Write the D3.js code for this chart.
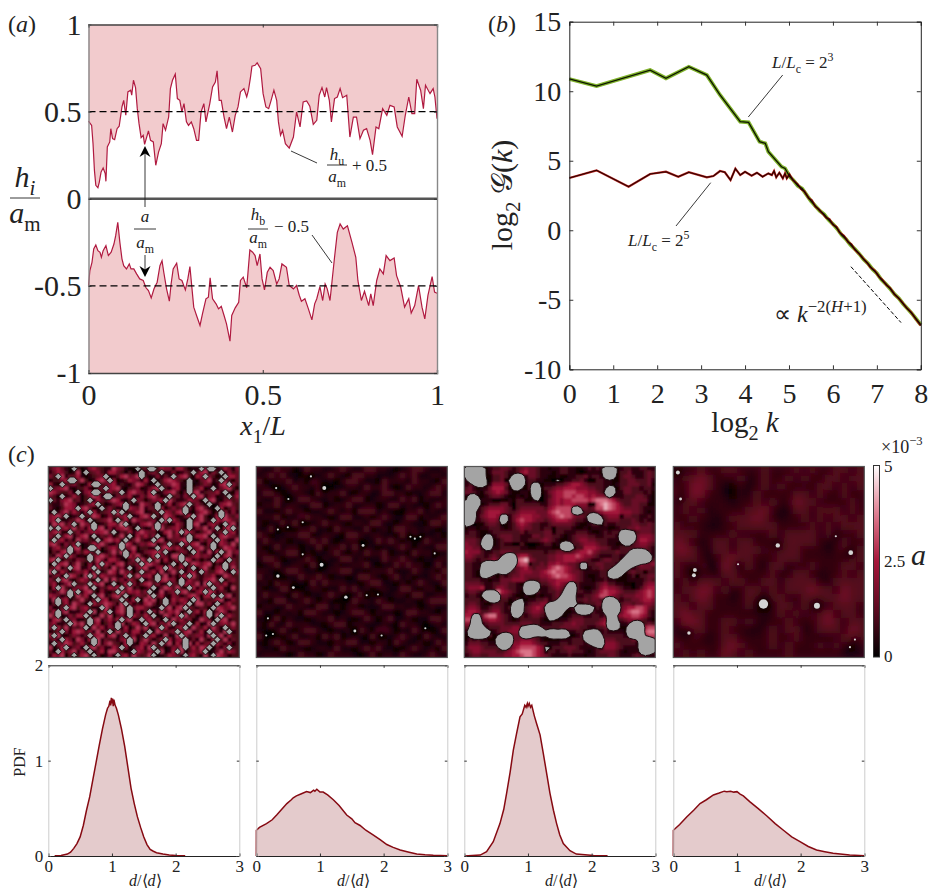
<!DOCTYPE html>
<html>
<head>
<meta charset="utf-8">
<script src="https://cdn.jsdelivr.net/npm/d3@7"></script>
<style>
  body { margin: 0; background: #fff; }
  svg { display: block; }
  text { font-family: "Liberation Serif", serif; fill: #222; }
</style>
</head>
<body>
<svg id="fig" width="929" height="890"></svg>
<script>
// panel (a): top and bottom surface heights
const upperX = [0,.009,.013,.017,.021,.027,.031,.036,.042,.048,.05,.054,.061,.064,.069,.075,.082,.088,.096,.101,.107,.113,.121,.124,.129,.135,.14,.145,.151,.157,.161,.167,.172,.178,.186,.193,.201,.209,.214,.221,.23,.235,.241,.249,.255,.262,.268,.274,.281,.287,.295,.302,.31,.316,.323,.331,.337,.348,.356,.364,.369,.375,.381,.389,.396,.404,.413,.421,.429,.436,.446,.454,.459,.465,.469,.478,.484,.494,.501,.509,.517,.524,.532,.54,.545,.551,.557,.565,.576,.588,.597,.607,.616,.626,.635,.645,.655,.662,.67,.678,.683,.691,.697,.706,.714,.722,.729,.741,.75,.76,.769,.779,.789,.798,.808,.815,.825,.833,.844,.856,.865,.877,.886,.9,.909,.919,.928,.936,.942,.953,.961,.967,.98,.989,.994,1];
const upperH = [.446,.421,.316,.163,.077,.063,.096,.153,.176,.144,.1,.297,.326,.402,.345,.339,.402,.416,.527,.565,.479,.613,.623,.594,.68,.638,.517,.431,.351,.364,.312,.354,.389,.335,.326,.192,.268,.316,.431,.393,.469,.632,.68,.715,.575,.565,.498,.546,.441,.421,.441,.402,.335,.335,.498,.546,.441,.546,.642,.67,.734,.565,.565,.469,.402,.469,.383,.479,.527,.613,.632,.584,.623,.699,.761,.766,.78,.747,.603,.527,.517,.565,.623,.565,.441,.364,.393,.316,.291,.354,.498,.412,.556,.561,.531,.427,.45,.594,.638,.584,.638,.565,.441,.575,.584,.632,.58,.594,.354,.469,.469,.345,.393,.402,.335,.253,.412,.402,.517,.479,.536,.527,.412,.358,.479,.584,.489,.489,.686,.623,.517,.651,.603,.632,.584,.46];
const lowerX = [0,.004,.01,.015,.021,.027,.033,.037,.042,.05,.057,.065,.073,.078,.084,.09,.096,.101,.109,.117,.122,.13,.138,.147,.157,.165,.172,.18,.188,.197,.205,.211,.216,.224,.232,.237,.243,.253,.26,.268,.278,.285,.291,.297,.302,.31,.32,.327,.337,.344,.349,.356,.366,.373,.381,.389,.396,.406,.411,.421,.431,.436,.444,.454,.463,.471,.478,.484,.492,.498,.505,.513,.521,.53,.54,.547,.555,.568,.576,.588,.597,.605,.611,.621,.631,.641,.649,.655,.664,.672,.679,.685,.693,.699,.706,.714,.722,.731,.743,.756,.767,.773,.783,.792,.804,.81,.817,.827,.836,.846,.854,.865,.877,.884,.896,.907,.919,.926,.936,.947,.957,.965,.974,.986,.993,1];
const lowerH = [-.498,-.412,-.365,-.288,-.265,-.298,-.307,-.336,-.298,-.269,-.326,-.307,-.26,-.212,-.135,-.25,-.345,-.384,-.403,-.374,-.403,-.403,-.431,-.46,-.469,-.511,-.527,-.569,-.517,-.479,-.384,-.355,-.422,-.517,-.588,-.489,-.403,-.37,-.46,-.469,-.523,-.46,-.389,-.517,-.622,-.67,-.727,-.66,-.574,-.565,-.454,-.574,-.603,-.632,-.618,-.67,-.718,-.817,-.67,-.626,-.594,-.469,-.45,-.511,-.294,-.307,-.326,-.384,-.317,-.46,-.523,-.422,-.393,-.412,-.489,-.46,-.374,-.393,-.498,-.517,-.498,-.555,-.588,-.574,-.632,-.695,-.603,-.574,-.504,-.584,-.489,-.517,-.584,-.469,-.336,-.193,-.145,-.174,-.155,-.25,-.336,-.469,-.584,-.531,-.613,-.546,-.613,-.469,-.403,-.431,-.326,-.355,-.34,-.441,-.508,-.622,-.574,-.656,-.613,-.498,-.622,-.689,-.555,-.447,-.536,-.542];
const aTicks = [0, .5, 1];
const hTicks = [-1, -.5, 0, .5, 1];

// panel (b): spectra
const specGreenK = [0,.62,1.84,2.2,2.72,3.13,3.43,3.89,4.08,4.33,4.46,4.53,4.83,4.91,5.02,5.1,5.2,5.3,5.4,5.5,5.6,5.7,5.8,5.9,6,6.1,6.2,6.3,6.4,6.5,6.6,6.7,6.8,6.9,7,7.1,7.2,7.3,7.4,7.5,7.6,7.7,7.8,7.9,8];
const specGreen = [10.88,10.37,11.52,10.93,11.76,11.16,9.73,7.81,7.76,6.37,6.25,5.65,4.57,4.45,3.85,3.6,3.2,3,2.55,2.1,1.75,1.4,1.15,.75,.45,.1,-.35,-.65,-1.05,-1.35,-1.7,-2.1,-2.4,-2.8,-3.1,-3.55,-3.85,-4.2,-4.6,-4.9,-5.3,-5.65,-6,-6.4,-6.8];
const specRedK = [0,.62,1.35,1.84,2.2,2.48,2.72,3.13,3.28,3.43,3.54,3.67,3.78,3.89,4,4.15,4.27,4.4,4.53,4.61,4.66,4.71,4.78,4.86,4.91,4.95,5.01,5.09,5.2,5.28,5.35,5.45,5.52,5.6,5.68,5.75,5.85,5.92,6,6.08,6.15,6.25,6.35,6.42,6.5,6.6,6.68,6.78,6.85,6.95,7.05,7.12,7.22,7.3,7.4,7.5,7.58,7.68,7.78,7.88,8];
const specRed = [3.76,4.31,3.13,4.05,4.21,3.85,4.17,3.81,3.9,4.26,4.17,3.61,4.43,3.97,4.21,3.93,4.14,3.85,4.09,3.97,4.26,3.81,4.14,3.73,4.09,3.73,4.02,3.61,3.3,2.95,2.8,2.3,2.15,1.7,1.5,1.25,.9,.8,.4,.25,-.15,-.4,-.85,-1,-1.4,-1.7,-2,-2.35,-2.65,-2.9,-3.35,-3.55,-3.95,-4.15,-4.6,-4.9,-5.2,-5.6,-5.9,-6.35,-6.85];
const slopeK = [6.41, 7.55];
const slopeG = [-2.62, -6.64];
const kTicks = [0, 1, 2, 3, 4, 5, 6, 7, 8];
const gTicks = [-10, -5, 0, 5, 10, 15];

// panel (c): distributions of d/<d>
const pdf1X = [.1,.2,.3,.35,.4,.45,.5,.55,.6,.65,.7,.75,.8,.85,.9,.93,.95,.97,.98,.99,1,1.01,1.02,1.03,1.05,1.07,1.1,1.15,1.2,1.25,1.3,1.35,1.4,1.45,1.5,1.55,1.6,1.65,1.7,1.8,1.9,2,2.15];
const pdf1Y = [.002,.006,.02,.04,.08,.13,.2,.32,.48,.62,.8,.98,1.16,1.33,1.48,1.55,1.57,1.63,1.58,1.66,1.6,1.65,1.57,1.64,1.58,1.55,1.48,1.33,1.15,.93,.71,.55,.41,.3,.2,.12,.07,.05,.035,.02,.01,.006,.003];
const pdf2X = [0,.001,.05,.16,.25,.32,.4,.48,.55,.58,.63,.7,.79,.85,.9,.92,.95,1,1.05,1.12,1.21,1.3,1.42,1.5,1.55,1.63,1.72,1.84,1.95,2.05,2.15,2.26,2.4,2.52,2.65,2.78,3];
const pdf2Y = [0,.27,.3,.34,.38,.43,.49,.55,.59,.61,.63,.65,.675,.665,.69,.68,.7,.67,.67,.64,.59,.53,.43,.39,.35,.32,.27,.22,.17,.12,.09,.063,.04,.02,.012,.007,.003];
const pdf3X = [0,.25,.35,.455,.56,.62,.665,.72,.77,.82,.875,.91,.95,.97,.99,1,1.02,1.04,1.06,1.1,1.135,1.19,1.24,1.3,1.345,1.4,1.45,1.5,1.555,1.66,1.76,2.03,2.25];
const pdf3Y = [.001,.01,.045,.15,.34,.49,.66,.88,1.11,1.28,1.46,1.49,1.58,1.56,1.6,1.57,1.6,1.56,1.58,1.47,1.39,1.27,1.08,.84,.66,.48,.34,.22,.13,.055,.02,.004,.002];
const pdf4X = [0,.001,.1,.21,.32,.42,.52,.63,.72,.8,.84,.9,.95,1,1.05,1.1,1.2,1.33,1.47,1.6,1.73,1.86,1.99,2.12,2.25,2.38,2.51,2.77,3];
const pdf4Y = [0,.27,.33,.41,.48,.55,.59,.64,.66,.68,.675,.68,.67,.675,.65,.63,.57,.5,.42,.34,.27,.2,.15,.1,.063,.045,.028,.01,.003];
const dTicks = [0, 1, 2, 3];
const pdfTicks = [0, 1, 2];

// maps of aperture a: one digit per cell, # = contact
const map1Rows = [
"356421#312564322754211#34##36551663122#5##236415",
"246531271#3453266431312#2453#2251243#367153#2534",
"53#72446212345#12367457#3125242#4673165#5312#664",
"13356##47312675#5123654262#13676431#2145723#5314",
"621#3453126##34562321476312#3457622#123541267#53",
"#4567213352144#5672134512467#315621#34612#246731",
"7643351#256##34534#2675426#12567314#67234462#215",
"531#2364135762##14546125367412#34253#67245123#36",
"#425673413#2643576213#5413556#742236541#67214534",
"322476512356#312456#3127542#1361467#3531#125674",
"4213665#67412#35312#6547244#613534#4167421#6135",
"1#25736415#62345#7#234671234#65367#21467413#5252",
"5674#123#34761253456#12675#327641246#573126#7435",
"56#1234762#134571#3627543451#7#6421#35732#65764",
"276735#1754#1236648#1325674#5312641#67215641#572",
"#3#56473526#6715256741#3126#7345631#254725#167#3",
"46721#3524565673#1436257544126736#7641357234#562",
"53#36724671#24351372#164635#1274514#36671#26754",
"3#5624174532#167560#247322#67134467#215353#64127",
"6741535#1236574214#76235467135#31#5467215#26537",
"25634#6712##613564#45713321#5764642#45734#137652",
"14267#253653#124737#261245674#213541#632726#3745",
"3275#64121#46753522#6473136#54277#23564541#16723",
"67#1432543#37516642135#74#3716235#7624132#651#4",
"1#56724731526#641672435#6754123#15#376467132#45",
"35714#67225#63417352#14672156#743624#1573156#273",
"7#2641354615#2376274513#346271473#2562#5336741#5",
"2451#76317#726544216#375562#3714156#73244612753",
"53#672146531#2727352641#143#67551#264325673#145",
"461257#334#65712#136#524673521#43#654717#45362",
"16#73245571#243656#4723125#14763731#62543#46217",
"32475#6#267315213#7465635#127245#673156#762431",
"65413#27461#5723673#135437#46215413675166#3#572",
"27#561347324#56134#526#175713#264652#7143467125",
"14#3627531#64576417#523267413#35246#177352#146",
"5124#67356312#741573#4664312#57167#532431#76457",
"36#5712245#7136#2673#1514#527365713#4626#247513",
"74#125366#4127371352#64364#127526#734125#17#364",
"2673#45113#5724636#5712#56341#274635127541#6723",
"46123#7572#461352#713651#672547#245#16127#35647",
"5#6372435#1746254#2613747135#62256#174362741#35",
"134#52676352714#173526624#175345#3672361#5427#2",
"6#72135424#56716714#3523#56217127#6345527#47163",
"352#6417516#72433256#71474135#6256#2417316#3724",
"2#547634631#72574316#2165273#47163#716245#642513",
"7136#2451#67352264#5135627#3412547#36376#1425#3",
"41#6357253#2461774312#65354#7126#713546#1247365",
"265714#3673#41251#56274347#1236542#563172#76413"];
const map2Rows = [
"21132201322112321133221012332112",
"12323110221232103322111232311221",
"30122312032110233211032221322103",
"22101232213301122132231013221232",
"13320122103222310221133220112331",
"21132013321120123301221132302112",
"02231221133012231122013312110232",
"31102322011232120333121002231211",
"12230113322101331120232113302123",
"20113231012322102213311022110332",
"11322102231103221130120332212101",
"32011223301221033212211031321120",
"13212011232310122011323202113212",
"20131220113022313221011232021133",
"22012331201123102132230110322311",
"13320112320211331201132232101122",
"01231122033112012231011323220131",
"22102332110122331102223011321203",
"31210113223201101332102312011232",
"12032211031322211023311020232113",
"20113320122011323120221133102201",
"13221032011232201312011220331122",
"21033112320210113221320112102333",
"02211322103312022011133221201211",
"31102120332110123320211013322102",
"12230211012231210132023112011332",
"20311322211023302211121032210121",
"11023102332101121320332011322013",
"32110231120323012103111232103211",
"10232013321102233110220321120132",
"21103221012213110232311002321203",
"12221013220132221013022132112321"];
const map3Rows = [
"#####123 34432345 44322122 33221123 232###12 33223322",
"#####124 44322356 44322212 33221012 221###13 34222343",
"1####113 3431###2 44322112 11223342 332###13 44322343",
"2####013 34#1###2 332211## #223342# #3322113 34433342",
"233###25 5541###1 3##12223 34566543 33322123 34443341",
"34212246 6631##11 3##13345 56665554 4332##13 44332332",
"44321345 65421122 1##12456 67776665 543###22 44333231",
"1##11234 43211212 1##02356 67767765 6554#222 33344321",
"1###222# #1121331 12#02456 56677776 78887643 33444421",
"1###1233 3442#333 33322456 5666555# #7898764 33443311",
"11#13455 5543#344 44443567 777##443 47798765 44443222",
"##323566 65433455 55444678 777###33 34566665 55443212",
"###24566 5##24566 65544567 8775443# ##24555# 44332232",
"##323455 4##24676 65443456 6654332# ###34443 33432322",
"#1#11344 3#123565 43322344 44432112 33#32233 33443343",
"12212233 32123454 433233#3 33321121 22221123 34454443",
"23321123 33333342 333344#3 32223332 1123233# #2#34443",
"33321##2 34443322 24434433 21234443 3223332# ###45554",
"44432##1 23443322 33345432 11234554 4333222# ###46654",
"5443###1 2322##31 ##123312 ###33455 54332211 #2345543",
"55442##2 23333322 11222211 ####3366 65443223 33344432",
"65553223 34443333 33332334 43345667 54333343 33####32",
"55433234 32###566 43333445 56667655 43222332 2######2",
"44323345 4####789 54333445 56665543 22344331 #######3",
"3322#### 3####677 #3343556 55443##3 3443332# ###45445",
"33223### 2###3456 43444678 76543##2 334332## #3234443",
"3321#### 1##33455 54456787 76544322 2233#### 13433#33",
"3321##32 13234454 44455678 77654321 1233###1 123#3344",
"33332212 24445554 33344556 66654322 12232211 12222343",
"44443223 3443321# ###33456 54##3222 23453322 11#22455",
"45556223 5543322# ###22345 42##3211 23565543 22#23566",
"34432#3# 8654321# ##322334 3###3322 34676654 33345676",
"2332#### #4432112 11212234 2##32233 45776543 44455676",
"333313## #33123#1 22334233 ####3343 443###32 33445665",
"34432113 3321###2 34455#2# ###12233 344####3 44344554",
"45542234 4323##33 4565#### #123#### #32####4 56677643",
"56653345 5322###3 45543### #112#### 322####4 67887632",
"66##4788 5432##32 34432### 11233322 33233455 66776532",
"77##4566 54321233 33321#11 22344433 3345##33 45554321",
"55##2344 44333344 43322233 34454433 3456###2 23###343",
"34##1233 344455#3 ###33333 44444332 2334###1 1####677",
"2######2 344555## ####3##3 ##2233#3 ##232222 1####788",
"1#####31 2###44## #33#2### ###123## ##333333 2###3677",
"13232211 ####4455 54321111 222333## ###44433 33433##2",
"24443322 ####5566 65433222 33233323 ###55543 3332####",
"35554333 3##35677 7765##33 34443222 23#55543 2222####",
"34554444 33456788 8765#332 33433321 23444432 1222###3",
"23443344 44556678 87654322 22322212 23334432 22343322"];
const map4Rows = [
"222322332223222323223323",
"233432223123223232233233",
"224432102123232222332323",
"324422102132222332322322",
"233222212232322433222232",
"232312222334211332333232",
"223221233343212232323323",
"322211223333322223232333",
"333222232222323333232223",
"432123323322233333212322",
"443213323332333322212333",
"333212343322233322222233",
"322311432321331223222332",
"323221332222312332122323",
"232333233223323333213333",
"233442312332323334332433",
"323432212333332233333433",
"332332222322233232223332",
"343322222122232323342332",
"244322332321223222343233",
"123322322112323312333243",
"223212332222322322122343",
"322222343222323222323212",
"232322432322223222222111"];
const map2Spots = [[.356,.113,4],[.286,.052,1],[.168,.17,1],[.243,.292,1],[.165,.318,1],[.113,.33,1],[.104,.113,1],[.559,.413,2],[.342,.514,4],[.113,.573,3],[.194,.634,2],[.469,.684,3],[.578,.674,1],[.637,.67,1],[.516,.861,2],[.885,.847,1],[.061,.795,1],[.087,.877,1],[.052,.885,1],[.934,.455,1],[.807,.368,1],[.83,.378,1],[.859,.368,1],[.243,.46,1],[.656,.885,1]];
const map4Spots = [[.024,.031,4],[.038,.17,2],[.547,.413,5],[.929,.451,6],[.113,.542,4],[.108,.569,4],[.339,.512,1],[.472,.72,26],[.752,.729,10],[.082,.872,3],[.851,.365,1],[.951,.906,1],[.925,.946,1]];
const aColorTicks = [0, 2.5, 5];

// colormap for a (in units of 1e-3), stops
const apertureColor = d3.scaleLinear()
  .domain([0, 1.25, 2.5, 3.75, 5])
  .range(["#000000", "#5c0a20", "#a5163a", "#e07d90", "#ffffff"]);
const digitValue = d3.scalePow().exponent(1.3).domain([0, 9]).range([0, 5]);

const svg = d3.select("#fig");
const defs = svg.append("defs");

function mathText(sel, runs, size) {
  let shift = 0;
  runs.forEach(r => {
    const s = r[1] || "";
    const level = s.includes("sub") ? .28 * size : s.includes("sup") ? -.42 * size : 0;
    sel.append("tspan")
      .attr("dy", level - shift)
      .attr("font-size", level ? size * .7 : size)
      .attr("font-style", s.includes("i") ? "italic" : "normal")
      .text(r[0]);
    shift = level;
  });
  return sel;
}
function label(x, y, runs, size, anchor) {
  const t = svg.append("text")
    .attr("x", x)
    .attr("y", y)
    .attr("font-size", size)
    .attr("text-anchor", anchor || "start");
  return mathText(t, runs, size);
}
function frac(cx, yNum, yLine, yDen, half, size, num, den) {
  label(cx, yNum, num, size, "middle");
  svg.append("line")
    .attr("x1", cx - half).attr("x2", cx + half)
    .attr("y1", yLine).attr("y2", yLine)
    .attr("stroke", "#222").attr("stroke-width", .9);
  label(cx, yDen, den, size, "middle");
}
function callout(x1, y1, x2, y2) {
  svg.append("line")
    .attr("x1", x1).attr("y1", y1).attr("x2", x2).attr("y2", y2)
    .attr("stroke", "#222").attr("stroke-width", .9);
}
function stealth(x, y, dir) {
  // arrow head with its tip on (x, y), dir = 1 points up, -1 points down
  const p = [[0, 0], [5.5, 11 * dir], [0, 7.5 * dir], [-5.5, 11 * dir]];
  svg.append("path")
    .attr("d", d3.line()(p.map(d => [x + d[0], y + d[1]])) + "Z")
    .attr("fill", "#000");
}
function frame(g, x, y, xt, yt, o) {
  const w = x.range()[1];
  const h = y.range()[0];
  const tick = o.tick || 4;
  const sides = [
    { ax: d3.axisBottom(x).tickValues(xt).tickSize(-tick).tickPadding(o.padX).tickFormat(o.xFmt || (d => d)), at: [0, h], c: o.hColor },
    { ax: d3.axisTop(x).tickValues(xt).tickSize(-tick).tickFormat(""), at: [0, 0], c: o.hColor },
    { ax: d3.axisLeft(y).tickValues(yt).tickSize(-tick).tickPadding(o.padY).tickFormat(o.yFmt || (d => d)), at: [0, 0], c: o.vColor },
    { ax: d3.axisRight(y).tickValues(yt).tickSize(-tick).tickFormat(""), at: [w, 0], c: o.vColor }
  ];
  sides.forEach(s => {
    const a = g.append("g").attr("transform", `translate(${s.at})`).call(s.ax);
    a.attr("font-family", null).attr("font-size", o.size);
    a.select(".domain").attr("stroke", s.c).attr("stroke-width", o.lw || 1);
    a.selectAll(".tick line").attr("stroke", "#333");
    a.selectAll(".tick text").attr("fill", "#222");
  });
}
const zipXY = (xs, ys) => xs.map((d, i) => [d, ys[i]]);

// ---- panel (a)
const aX = d3.scaleLinear().domain([0, 1]).range([0, 348.5]);
const aY = d3.scaleLinear().domain([-1, 1]).range([348.5, 0]);
const pa = svg.append("g").attr("transform", "translate(88.5,24.5)");
const upper = zipXY(upperX, upperH);
const lower = zipXY(lowerX, lowerH);

pa.append("path").datum(upper)
  .attr("d", d3.area().x(d => aX(d[0])).y0(aY(1)).y1(d => aY(d[1])))
  .attr("fill", "#f2cbcd");
pa.append("path").datum(lower)
  .attr("d", d3.area().x(d => aX(d[0])).y0(aY(-1)).y1(d => aY(d[1])))
  .attr("fill", "#f2cbcd");
[upper, lower].forEach(s => {
  pa.append("path").datum(s)
    .attr("d", d3.line().x(d => aX(d[0])).y(d => aY(d[1])))
    .attr("fill", "none").attr("stroke", "#b01a40").attr("stroke-width", 1.2);
});
[.5, -.5].forEach(v => {
  pa.append("line")
    .attr("x1", aX(0)).attr("x2", aX(1)).attr("y1", aY(v)).attr("y2", aY(v))
    .attr("stroke", "#000").attr("stroke-width", 1.4).attr("stroke-dasharray", "7 4");
});
pa.append("line")
  .attr("x1", aX(0)).attr("x2", aX(1)).attr("y1", aY(0)).attr("y2", aY(0))
  .attr("stroke", "#555").attr("stroke-width", 2.6);
frame(pa, aX, aY, aTicks, hTicks, { padX: 11, padY: 7, size: 30, tick: 3, hColor: "#444", vColor: "#888", lw: 1.4 });

label(8, 32, [["("], ["a", "i"], [")"]], 24);
frac(25, 187, 198, 223, 15, 30, [["h", "i"], ["i", "i sub"]], [["a", "i"], ["m", "sub"]]);
label(263, 435, [["x", "i"], ["1", "sub"], ["/"], ["L", "i"]], 28, "middle");
frac(337, 160, 165, 182, 10, 17, [["h", "i"], ["u", "sub"]], [["a", "i"], ["m", "sub"]]);
label(352, 171, [["+ 0.5"]], 17);
callout(291, 151, 317, 163);
frac(258, 220, 229, 243, 10, 17, [["h", "i"], ["b", "sub"]], [["a", "i"], ["m", "sub"]]);
label(274, 232, [["− 0.5"]], 17);
callout(312, 235, 332, 263);
frac(145, 222, 229, 248, 11, 17, [["a", "i"]], [["a", "i"], ["m", "sub"]]);
callout(145, 207, 145, 150);
stealth(145, 146, 1);
callout(145, 255, 145, 272);
stealth(145, 277, -1);

// ---- panel (b)
const bX = d3.scaleLinear().domain([0, 8]).range([0, 351.5]);
const bY = d3.scaleLinear().domain([-10, 15]).range([347.6, 0]);
const pb = svg.append("g").attr("transform", "translate(569.3,21.7)");
const specLine = d3.line().x(d => bX(d[0])).y(d => bY(d[1]));
const greenPts = zipXY(specGreenK, specGreen);
const redPts = zipXY(specRedK, specRed);
// coloured halos first, then the dark centres on top of both
[[greenPts, "#7fb22a", 3.8], [redPts, "#b4201c", 2.2], [greenPts, "#0c1400", 1.3], [redPts, "#2a0300", 1.1]].forEach(s => {
  pb.append("path").datum(s[0]).attr("d", specLine).attr("fill", "none").attr("stroke", s[1]).attr("stroke-width", s[2]);
});
pb.append("path").datum(zipXY(slopeK, slopeG))
  .attr("d", specLine).attr("fill", "none").attr("stroke", "#000").attr("stroke-width", 1).attr("stroke-dasharray", "4 2");
frame(pb, bX, bY, kTicks, gTicks, { padX: 14, padY: 8, size: 28, tick: 4, hColor: "#222", vColor: "#222" });

label(488, 32, [["("], ["b", "i"], [")"]], 24);
label(745, 432, [["log"], ["2", "sub"], [" "], ["k", "i"]], 29, "middle");
const yb = svg.append("text").attr("transform", "translate(512,195) rotate(-90)").attr("text-anchor", "middle").attr("font-size", 30);
mathText(yb, [["log"], ["2", "sub"], [" "], ["𝒢"], ["("], ["k", "i"], [")"]], 30);
label(772, 68, [["L", "i"], ["/"], ["L", "i"], ["c", "sub"], [" = 2"], ["3", "sup"]], 17);
callout(782.7, 75, 748.3, 117);
label(628, 246, [["L", "i"], ["/"], ["L", "i"], ["c", "sub"], [" = 2"], ["5", "sup"]], 17);
callout(710.7, 182.7, 676, 226);
label(774, 322, [["∝ "], ["k", "i"], ["−2(", "sup"], ["H", "i sup"], ["+1)", "sup"]], 24);

// ---- panel (c), maps
label(8, 462, [["("], ["c", "i"], [")"]], 24);
const panelX = [48.3, 256.3, 464.3, 673.3];
const mapTop = 466.5;
const mapSize = 191;
const maps = [
  { rows: map1Rows, blur: 1.0, gain: .8, maskBlur: 0, level: .16, spots: [] },
  { rows: map2Rows, blur: 2.3, gain: .9, spots: map2Spots },
  { rows: map3Rows, blur: 1.3, gain: .85, maskBlur: .25, level: .31, spots: [] },
  { rows: map4Rows, blur: 4.4, gain: .95, spots: map4Spots }
];
const spotR = d3.scaleSqrt().domain([0, 26]).range([0, 4.5]);

maps.forEach((m, i) => {
  const rows = m.rows.map(r => r.replace(/ /g, ""));
  const n = rows[0].length;
  const cells = [];
  const mask = [];
  rows.forEach((r, y) => {
    for (let x = 0; x < n; x++) {
      const c = r[x] === undefined ? "3" : r[x];
      cells.push({ x, y, v: c === "#" ? 0 : digitValue(+c) * m.gain });
      mask.push(c === "#" ? 1 : 0);
    }
  });
  const band = d3.scaleBand().domain(d3.range(n)).range([0, mapSize]);
  const unit = d3.scaleLinear().domain([0, 1]).range([0, mapSize]);

  defs.append("clipPath").attr("id", `clip-${i}`).append("rect").attr("width", mapSize).attr("height", mapSize);
  defs.append("filter").attr("id", `soft-${i}`)
    .attr("x", "-5%").attr("y", "-5%").attr("width", "110%").attr("height", "110%")
    .append("feGaussianBlur").attr("stdDeviation", m.blur);

  const g = svg.append("g").attr("transform", `translate(${panelX[i]},${mapTop})`);
  const inner = g.append("g").attr("clip-path", `url(#clip-${i})`);
  inner.append("rect").attr("width", mapSize).attr("height", mapSize).attr("fill", apertureColor(1));
  const soft = inner.append("g").attr("filter", `url(#soft-${i})`);
  soft.selectAll("rect").data(cells).join("rect")
    .attr("x", d => band(d.x))
    .attr("y", d => band(d.y))
    .attr("width", band.bandwidth() + .5)
    .attr("height", band.bandwidth() + .5)
    .attr("fill", d => apertureColor(d.v));
  // the aperture drops to zero around each small contact spot
  soft.selectAll("circle").data(m.spots).join("circle")
    .attr("cx", d => unit(d[0]))
    .attr("cy", d => unit(d[1]))
    .attr("r", d => spotR(d[2]) * 1.6 + 3)
    .attr("fill", "#000");

  // contact patches as contours of the smoothed mask
  if (d3.max(mask) > 0) {
    const smooth = m.maskBlur
      ? Array.from(d3.blur2({ data: Float64Array.from(mask), width: n, height: n }, m.maskBlur).data)
      : mask;
    const contour = d3.contours().size([n, n]).thresholds([m.level])(smooth);
    inner.append("path").datum(contour[0])
      .attr("d", d3.geoPath(d3.geoIdentity().scale(mapSize / n)))
      .attr("fill", "#a4a4a4").attr("stroke", "#1c0a0e").attr("stroke-width", i === 0 ? .8 : 1);
  }
  inner.selectAll("circle.spot").data(m.spots).join("circle")
    .attr("class", "spot")
    .attr("cx", d => unit(d[0]))
    .attr("cy", d => unit(d[1]))
    .attr("r", d => spotR(d[2]) + .2)
    .attr("fill", "#d4d4d4");
  g.append("rect").attr("width", mapSize).attr("height", mapSize)
    .attr("fill", "none").attr("stroke", "#555").attr("stroke-width", 1.2);
});

// colorbar
const cbY = d3.scaleLinear().domain([0, 5]).range([657, 465.5]);
const grad = defs.append("linearGradient").attr("id", "cb").attr("x1", 0).attr("x2", 0).attr("y1", 1).attr("y2", 0);
d3.range(0, 5.01, .5).forEach(v => {
  grad.append("stop").attr("offset", v / 5).attr("stop-color", apertureColor(v));
});
svg.append("rect").attr("x", 873.5).attr("y", cbY(5)).attr("width", 6).attr("height", cbY(0) - cbY(5))
  .attr("fill", "url(#cb)").attr("stroke", "#333").attr("stroke-width", 1);
aColorTicks.forEach(v => {
  svg.append("text").attr("x", 884).attr("y", cbY(v) + (v === 0 ? 5 : v === 5 ? 6.5 : 6))
    .attr("font-size", 17).text(v);
});
label(881, 452.5, [["×10"], ["−3", "sup"]], 18);
label(911, 565, [["a", "i"]], 30);

// ---- panel (c), distributions
const pdfX = d3.scaleLinear().domain([0, 3]).range([0, 191]);
const pdfY = d3.scaleLinear().domain([0, 2]).range([190.7, 0]);
[[pdf1X, pdf1Y], [pdf2X, pdf2Y], [pdf3X, pdf3Y], [pdf4X, pdf4Y]].forEach((s, i) => {
  const g = svg.append("g").attr("transform", `translate(${panelX[i]},665.3)`);
  const pts = zipXY(s[0], s[1]);
  g.append("path").datum(pts)
    .attr("d", d3.area().x(d => pdfX(d[0])).y0(pdfY(0)).y1(d => pdfY(d[1])))
    .attr("fill", "#e4cbcc");
  g.append("path").datum(pts)
    .attr("d", d3.line().x(d => pdfX(d[0])).y(d => pdfY(d[1])))
    .attr("fill", "none").attr("stroke", "#860a12").attr("stroke-width", 1.5);
  frame(g, pdfX, pdfY, dTicks, pdfTicks, {
    padX: 4, padY: 5, size: 17, tick: 2.5, hColor: "#222", vColor: "#ccc",
    yFmt: i === 0 ? (d => d) : () => ""
  });
  label(panelX[i] + 97, 886, [["d", "i"], ["/⟨"], ["d", "i"], ["⟩"]], 16, "middle");
});
const pdfLabel = svg.append("text").attr("transform", "translate(25,762) rotate(-90)").attr("text-anchor", "middle").attr("font-size", 16);
pdfLabel.text("PDF");
</script>
</body>
</html>
